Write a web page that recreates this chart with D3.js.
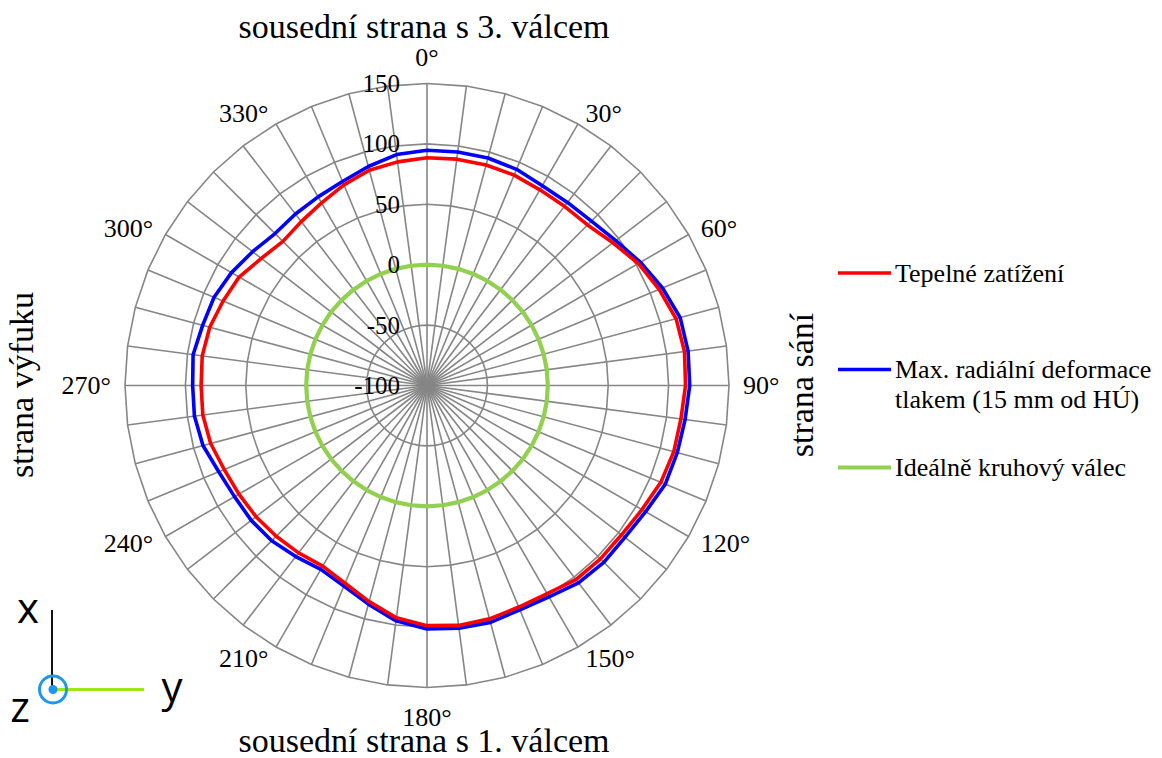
<!DOCTYPE html>
<html>
<head>
<meta charset="utf-8">
<script src="https://cdn.jsdelivr.net/npm/d3@7"></script>
<style>
  html, body { margin: 0; padding: 0; background: #fff; }
  svg { display: block; }
  text { font-family: "Liberation Serif", "Times New Roman", serif; fill: #000; }
</style>
</head>
<body>
<svg id="chart" width="1162" height="758"></svg>
<script>
// ---- data ----
// 48 categories, every 7.5°, labels only every 30°
const angleLabels = ["0°","","","","30°","","","","60°","","","","90°","","","","120°","","","","150°","","","",
                     "180°","","","","210°","","","","240°","","","","270°","","","","300°","","","","330°","","",""];
const radialTicks = [-100, -50, 0, 50, 100, 150];
const seriesNames = ["Tepelné zatížení", "Max. radiální deformace\ntlakem (15 mm od HÚ)", "Ideálně kruhový válec"];
const tepelne = [88.5, 89, 89, 88.5, 87, 87, 88, 94, 102, 108, 113.5, 115,
                 114, 112, 111.5, 109.5, 105.5, 103, 103, 102.5, 99, 98.5, 100, 100.3,
                 98.8, 94, 85.2, 77.2, 72.7, 74.7, 76.5, 78.4, 79.8, 81.7, 85.4, 87.2,
                 87, 87.7, 86.2, 82.7, 79.6, 72.9, 68.7, 71, 74.6, 79.8, 84.5, 86.7];
const deformace = [94.7, 95, 95, 93.7, 91, 91, 92.5, 97, 104, 111, 117, 118,
                   117.5, 115.5, 114.5, 113.5, 109, 106.5, 107, 106, 102, 101, 103, 102.7,
                   101.5, 96.5, 87.4, 79.8, 75.8, 78.5, 81.8, 83.4, 84, 86.6, 92, 94.2,
                   94, 95.3, 92.3, 90.8, 86.9, 82, 77.9, 78.9, 80.3, 82.8, 87.7, 92.8];
const idealni = [0,0,0,0,0,0,0,0,0,0,0,0, 0,0,0,0,0,0,0,0,0,0,0,0,
                 0,0,0,0,0,0,0,0,0,0,0,0, 0,0,0,0,0,0,0,0,0,0,0,0];
const seriesColors = ["#ff0000", "#0000ff", "#92d050"];

// ---- layout ----
const svg = d3.select("#chart");
const cx = 427, cy = 385.5;
const R = 302;
const n = angleLabels.length;

const r = d3.scaleLinear().domain([-100, 150]).range([0, R]);
const a = d3.scaleLinear().domain([0, n]).range([0, 2 * Math.PI]);
const idx = d3.range(n);

const g = svg.append("g").attr("transform", `translate(${cx},${cy})`);

// rings (polygons)
const ringLine = d3.lineRadial().curve(d3.curveLinearClosed);
radialTicks.filter(t => t > -100).forEach(t => {
  g.append("path")
    .attr("d", ringLine(idx.map(i => [a(i), r(t)])))
    .attr("fill", "none").attr("stroke", "#868686").attr("stroke-width", 1.6);
});
// spokes
g.selectAll("line.spoke").data(idx).enter().append("line")
  .attr("class", "spoke")
  .attr("x1", 0).attr("y1", 0)
  .attr("x2", i => r(150) * Math.sin(a(i)))
  .attr("y2", i => -r(150) * Math.cos(a(i)))
  .attr("stroke", "#868686").attr("stroke-width", 1.6);

// series
const seriesLine = d3.lineRadial().curve(d3.curveLinearClosed)
  .angle((d, i) => a(i)).radius(d => r(d));
const drawOrder = [[idealni, 2], [deformace, 1], [tepelne, 0]];
drawOrder.forEach(([vals, k]) => {
  g.append("path")
    .attr("d", seriesLine(vals))
    .attr("fill", "none")
    .attr("stroke", seriesColors[k])
    .attr("stroke-width", k === 2 ? 4.2 : 3.6)
    .attr("stroke-linejoin", "round");
});

// radial tick labels
g.selectAll("text.rtick").data(radialTicks).enter().append("text")
  .attr("class", "rtick")
  .attr("x", -27)
  .attr("y", t => -r(t) + 0.34 * 25)
  .attr("text-anchor", "end")
  .style("font-size", "25px")
  .text(t => t);

// angle labels
const labelFs = 26;
idx.filter(i => angleLabels[i] !== "").forEach(i => {
  const th = a(i);
  const t = g.append("text")
    .attr("text-anchor", "middle")
    .style("font-size", labelFs + "px")
    .text(angleLabels[i]);
  const bb = t.node().getBBox();
  const s = Math.sin(th), c = Math.cos(th);
  const base = 315;
  let x = s * base, y = -c * base;
  if (Math.abs(s) > 0.01) x += Math.sign(s) * (bb.width / 2 + 1);
  else y += c > 0 ? -13.5 : 17;
  t.attr("x", x).attr("y", y + 0.34 * labelFs);
});

// titles
svg.append("text").attr("x", 424).attr("y", 38).attr("text-anchor", "middle")
  .style("font-size", "34px").text("sousední strana s 3. válcem");
svg.append("text").attr("x", 424).attr("y", 752).attr("text-anchor", "middle")
  .style("font-size", "34px").text("sousední strana s 1. válcem");
svg.append("text").attr("transform", "translate(33,385) rotate(-90)").attr("text-anchor", "middle")
  .style("font-size", "34px").text("strana výfuku");
svg.append("text").attr("transform", "translate(813,385) rotate(-90)").attr("text-anchor", "middle")
  .style("font-size", "34px").text("strana sání");

// legend
const legendY = [273, 369.5, 467.5];
seriesNames.forEach((name, k) => {
  svg.append("line").attr("x1", 838).attr("x2", 891)
    .attr("y1", legendY[k]).attr("y2", legendY[k])
    .attr("stroke", seriesColors[k]).attr("stroke-width", k === 2 ? 4.2 : 3.6);
  const lines = name.split("\n");
  const t = svg.append("text").attr("x", 895).attr("y", legendY[k] + 8.5)
    .style("font-size", "26px");
  lines.forEach((ln, j) => {
    t.append("tspan").attr("x", 895).attr("dy", j === 0 ? 0 : 30).text(ln);
  });
});

// axis icon (bottom-left)
const ic = svg.append("g");
ic.append("line").attr("x1", 52).attr("x2", 52).attr("y1", 610).attr("y2", 689)
  .attr("stroke", "#111").attr("stroke-width", 2);
ic.append("line").attr("x1", 55).attr("x2", 144).attr("y1", 689.5).attr("y2", 689.5)
  .attr("stroke", "#9be812").attr("stroke-width", 3);
ic.append("circle").attr("cx", 53).attr("cy", 689.5).attr("r", 13.5)
  .attr("fill", "none").attr("stroke", "#1e96f0").attr("stroke-width", 3);
ic.append("circle").attr("cx", 53).attr("cy", 689.5).attr("r", 4.5).attr("fill", "#1e96f0");
ic.append("text").attr("x", 28).attr("y", 623).attr("text-anchor", "middle")
  .style("font-family", "'Open Sans', 'DejaVu Sans', sans-serif").style("font-size", "42px").text("x");
ic.append("text").attr("x", 172).attr("y", 702).attr("text-anchor", "middle")
  .style("font-family", "'Open Sans', 'DejaVu Sans', sans-serif").style("font-size", "42px").text("y");
ic.append("text").attr("x", 20).attr("y", 722).attr("text-anchor", "middle")
  .style("font-family", "'Open Sans', 'DejaVu Sans', sans-serif").style("font-size", "42px").text("z");
</script>
</body>
</html>
